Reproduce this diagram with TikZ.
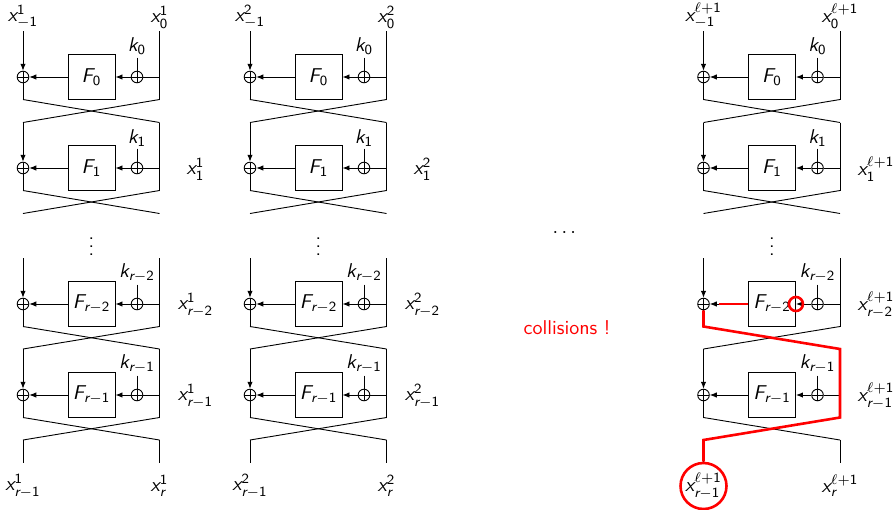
\documentclass[tikz,border=0pt]{standalone}
\usepackage{amsmath}
\usetikzlibrary{arrows.meta}
\newcommand\sv[1]{\textsf{\slshape #1}}
\newcommand\su[1]{\textsf{\upshape #1}}
\newcommand\rmi[1]{\sv{r}{-}\su{#1}}
\newcommand\Lp{{\ell}{+}\su{1}}
\tikzset{
  wire/.style={line width=0.45pt},
  arr/.style={wire,-{Latex[length=3.5pt,width=2.7pt]}},
  xorn/.style={circle,draw,line width=0.45pt,minimum size=5.8pt,inner sep=0pt,
    path picture={\draw[line width=0.45pt] (path picture bounding box.north)--(path picture bounding box.south)
      (path picture bounding box.west)--(path picture bounding box.east);}},
  fbox/.style={draw,line width=0.45pt,minimum width=23.5pt,minimum height=22.5pt,inner sep=0pt},
  lbl/.style={inner sep=1pt},
  redline/.style={red,line width=1.3pt},
}
% #1 prefix, #2 id, #3 yc, #4 k label, #5 F label, #6 left top, #7 right top
\newcommand\fround[7]{%
  \node[xorn] (#1x#2) at (23,#3) {};
  \node[fbox] (#1f#2) at (91.5,#3) {$\sv{F}_{#5}$};
  \node[xorn] (#1k#2) at (137,#3) {};
  \coordinate (#1r#2) at (159.5,#3);
  \coordinate (#1lb#2) at (23,#3+22.5);
  \coordinate (#1rb#2) at (159.5,#3+22.5);
  \node[lbl,anchor=south] (#1kl#2) at (137,#3-19.5) {$\sv{k}_{#4}$};
  \draw[wire] (#1kl#2.south) -- (#1k#2.north);
  \draw[arr] (#6) -- (#1x#2.north);
  \draw[wire] (#7) -- (#1rb#2);
  \draw[wire] (#1r#2) -- (#1k#2.east);
  \draw[arr] (#1k#2.west) -- (#1f#2.east);
  \draw[arr] (#1f#2.west) -- (#1x#2.east);
  \draw[wire] (#1x#2.south) -- (#1lb#2);
}
% #1 prefix, #2 shift, #3 superscript
\newcommand\fblock[3]{%
  \begin{scope}[shift={(#2,0)}]
    \node[lbl,anchor=south] (#1t0) at (23,31) {$\sv{x}^{#3}_{-\su{1}}$};
    \node[lbl,anchor=south] (#1t1) at (159.5,31) {$\sv{x}^{#3}_{\su{0}}$};
    \fround{#1}{0}{77}{\su{0}}{\su{0}}{#1t0.south}{#1t1.south}
    \coordinate (#1lt1) at (23,122.5);
    \coordinate (#1rt1) at (159.5,122.5);
    \draw[wire] (#1lb0) -- (#1rt1);
    \draw[wire] (#1rb0) -- (#1lt1);
    \fround{#1}{1}{168}{\su{1}}{\su{1}}{#1lt1}{#1rt1}
    \coordinate (#1le1) at (23,213.5);
    \coordinate (#1re1) at (159.5,213.5);
    \draw[wire] (#1lb1) -- (#1re1);
    \draw[wire] (#1rb1) -- (#1le1);
    \node (#1vd) at (91.5,241) {$\vdots$};
    \coordinate (#1lt2) at (23,258);
    \coordinate (#1rt2) at (159.5,258);
    \fround{#1}{2}{304}{\rmi{2}}{\rmi{2}}{#1lt2}{#1rt2}
    \coordinate (#1lt3) at (23,349);
    \coordinate (#1rt3) at (159.5,349);
    \draw[wire] (#1lb2) -- (#1rt3);
    \draw[wire] (#1rb2) -- (#1lt3);
    \fround{#1}{3}{395}{\rmi{1}}{\rmi{1}}{#1lt3}{#1rt3}
    \coordinate (#1le3) at (23,440);
    \coordinate (#1re3) at (159.5,440);
    \draw[wire] (#1lb3) -- (#1re3);
    \draw[wire] (#1rb3) -- (#1le3);
    \coordinate (#1lend) at (23,463);
    \coordinate (#1rend) at (159.5,463);
    \draw[wire] (#1le3) -- (#1lend);
    \draw[wire] (#1re3) -- (#1rend);
    \node[lbl] (#1bl) at (23,486) {$\sv{x}^{#3}_{\rmi{1}}$};
    \node[lbl] (#1br) at (159.5,486) {$\sv{x}^{#3}_{\sv{r}}$};
    \node[lbl] (#1s1) at (195.5,169) {$\sv{x}^{#3}_{\su{1}}$};
    \node[lbl] (#1s2) at (195.5,305) {$\sv{x}^{#3}_{\rmi{2}}$};
    \node[lbl] (#1s3) at (195.5,396) {$\sv{x}^{#3}_{\rmi{1}}$};
  \end{scope}
}
\begin{document}
\begin{tikzpicture}[x=0.5pt,y=-0.5pt,font=\sffamily]
\useasboundingbox (0,0) rectangle (894,509);
\fblock{a}{0}{\su{1}}
\fblock{b}{227}{\su{2}}
\fblock{c}{680.5}{\Lp}
\node (hd) at (566,233) {$\cdots$};
\node[text=red] (col) at (567,328) {collisions !};
% red collision path
\draw[redline] (cf2.west) -- ([xshift=4.8pt]cx2.east);
\node[draw=red,line width=1.3pt,circle,minimum size=7pt,inner sep=0pt] (cring) at (cf2.east) {};
\node[draw=red,line width=1.3pt,circle,minimum size=23pt,inner sep=0pt] (ccirc) at (cbl.center) {};
\draw[redline,line join=miter] (cx2.south) -- (clb2) -- (crt3) -- (crb3) -- (cle3) -- (ccirc.north);
\end{tikzpicture}
\end{document}
